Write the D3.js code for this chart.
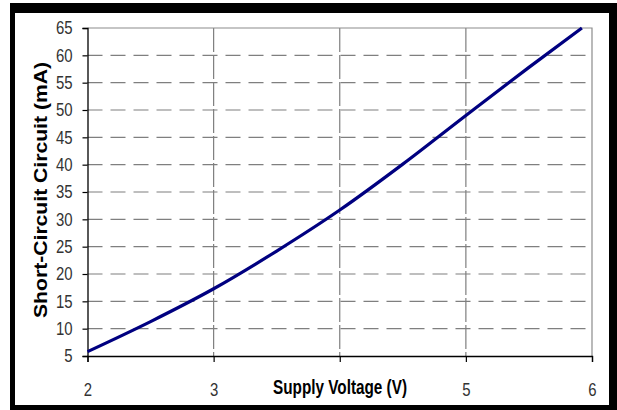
<!DOCTYPE html>
<html>
<head>
<meta charset="utf-8">
<script src="https://cdn.jsdelivr.net/npm/d3@7"></script>
<style>
  body { margin: 0; background: #fff; }
  svg { display: block; }
</style>
</head>
<body>
<div id="chart"></div>
<script>
// supply voltage (V) and short-circuit current (mA)
var voltage = [2.0, 2.5, 3.0, 3.5, 4.0, 4.5, 5.0, 5.5, 5.92];
var current = [5.8, 11.3, 17.3, 24.2, 31.7, 40.1, 49.0, 57.8, 65.0];
var xTicks = [2, 3, 4, 5, 6];
var xTickLabels = ["2", "3", "", "5", "6"];
var yTicks = [5, 10, 15, 20, 25, 30, 35, 40, 45, 50, 55, 60, 65];

var W = 617, H = 410;
var margin = {left: 87.5, top: 28, right: W - 592, bottom: H - 356};
var width = W - margin.left - margin.right;
var height = H - margin.top - margin.bottom;

var svg = d3.select("#chart").append("svg")
    .attr("width", W)
    .attr("height", H);

// black frame
svg.append("rect").attr("x", 10).attr("y", 3).attr("width", W - 10).attr("height", H - 3).attr("fill", "#000");
svg.append("rect").attr("x", 15).attr("y", 13).attr("width", 609 - 15).attr("height", 405 - 13).attr("fill", "#fff");

var x = d3.scaleLinear().domain([2, 6]).range([0, width]);
var y = d3.scaleLinear().domain([5, 65]).range([height, 0]);

var g = svg.append("g")
    .attr("transform", "translate(" + margin.left + "," + margin.top + ")");

// horizontal grid
g.selectAll(".hgrid")
    .data(yTicks.filter(function(d) { return d > 5 && d < 65; }))
    .enter().append("line")
    .attr("x1", 0).attr("x2", width)
    .attr("y1", function(d) { return y(d); })
    .attr("y2", function(d) { return y(d); })
    .attr("stroke", "#7f7f7f")
    .attr("stroke-width", 1.2)
    .attr("stroke-dasharray", "15,8");

// vertical grid
g.selectAll(".vgrid")
    .data(xTicks.filter(function(d) { return d > 2 && d < 6; }))
    .enter().append("line")
    .attr("x1", function(d) { return x(d); })
    .attr("x2", function(d) { return x(d); })
    .attr("y1", 0).attr("y2", height)
    .attr("stroke", "#7f7f7f")
    .attr("stroke-width", 1.2)
    .attr("stroke-dasharray", "24,3");

// top and right borders of the plot
g.append("path")
    .attr("d", "M0," + y(65) + "H" + x(6) + "V" + y(5))
    .attr("fill", "none")
    .attr("stroke", "#8c8c8c")
    .attr("stroke-width", 1.2);

var yAxis = g.append("g")
    .call(d3.axisLeft(y).tickValues(yTicks).tickSize(5).tickPadding(10));
var xAxis = g.append("g")
    .attr("transform", "translate(0," + height + ")")
    .call(d3.axisBottom(x).tickValues(xTicks).tickSize(6).tickPadding(21)
        .tickFormat(function(d, i) { return xTickLabels[i]; }));

[xAxis, yAxis].forEach(function(a) {
    a.select(".domain").attr("stroke", "#000").attr("stroke-width", 1.3);
    a.selectAll(".tick line").attr("stroke", "#000").attr("stroke-width", 1.2);
    a.selectAll(".tick text")
        .attr("fill", "#333")
        .style("font-family", "'Liberation Sans', Arial, sans-serif")
        .style("font-size", "18px")
        .attr("textLength", function() { return this.textContent.length * 8.3; })
        .attr("lengthAdjust", "spacingAndGlyphs");
});

var line = d3.line()
    .x(function(d, i) { return x(voltage[i]); })
    .y(function(d) { return y(d); })
    .curve(d3.curveMonotoneX);

g.append("path")
    .datum(current)
    .attr("d", line)
    .attr("fill", "none")
    .attr("stroke", "#000080")
    .attr("stroke-width", 3.2);

// axis titles
svg.append("text")
    .attr("x", 340).attr("y", 394)
    .attr("text-anchor", "middle")
    .attr("textLength", 134)
    .attr("lengthAdjust", "spacingAndGlyphs")
    .style("font-family", "'Liberation Sans', Arial, sans-serif")
    .style("font-weight", "bold")
    .style("font-size", "21px")
    .text("Supply Voltage (V)");

svg.append("text")
    .attr("transform", "translate(47,190) rotate(-90)")
    .attr("text-anchor", "middle")
    .attr("textLength", 256)
    .attr("lengthAdjust", "spacingAndGlyphs")
    .style("font-family", "'Liberation Sans', Arial, sans-serif")
    .style("font-weight", "bold")
    .style("font-size", "19px")
    .text("Short-Circuit Circuit (mA)");
</script>
</body>
</html>
